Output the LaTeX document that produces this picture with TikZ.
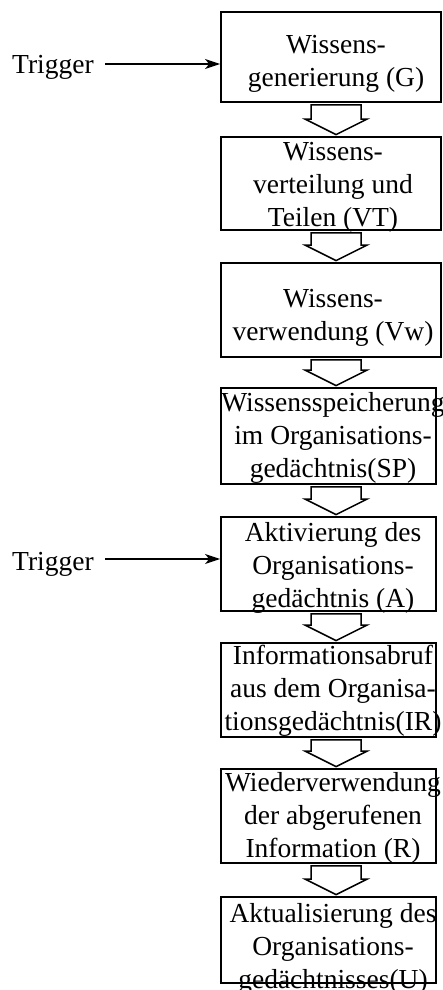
\documentclass[tikz,border=0pt]{standalone}
\usepackage{fontspec}
\setmainfont{Liberation Serif}
\usetikzlibrary{arrows.meta,calc}

\tikzset{
  stage/.style={draw, line width=1.8pt, inner sep=0pt},
  stagetext/.style={align=center, inner sep=0pt, font=\fontsize{27.5}{33}\selectfont},
  trigtext/.style={inner sep=0pt, font=\fontsize{27.5}{33}\selectfont},
  trigarrow/.style={line width=1.5pt, -{Stealth[length=15pt,width=10pt,inset=4pt]}},
  blockarrow/.style={draw, line width=1.5pt, line join=miter},
}

% hollow block arrow from the bottom of one stage to the top of the next
\newcommand\flowarrow[2]{%
  \draw[blockarrow] let \p1=(#1.south west), \p2=(#2.north west) in
    (\x1+91pt,\y1-2pt) -- (\x1+141pt,\y1-2pt) -- (\x1+141pt,\y2+17pt)
    -- (\x1+147pt,\y2+17pt) -- (\x1+116pt,\y2+1.5pt) -- (\x1+85pt,\y2+17pt)
    -- (\x1+91pt,\y2+17pt) -- cycle;}

\begin{document}
\begin{tikzpicture}[x=1pt, y=-1pt]
\useasboundingbox (0,0) rectangle (443,990);

% stages
\node[stage, minimum width=220pt, minimum height=90pt] (g)  at (331,57)    {};
\node[stage, minimum width=220pt, minimum height=93pt] (vt) at (331,183.5) {};
\node[stage, minimum width=220pt, minimum height=94pt] (vw) at (331,310)   {};
\node[stage, minimum width=215pt, minimum height=96pt] (sp) at (328.5,436) {};
\node[stage, minimum width=215pt, minimum height=94pt] (a)  at (328.5,564) {};
\node[stage, minimum width=215pt, minimum height=94pt] (ir) at (328.5,690) {};
\node[stage, minimum width=215pt, minimum height=94pt] (r)  at (328.5,816) {};
\node[stage, minimum width=215pt, minimum height=86pt] (u)  at (328.5,940) {};

% stage labels
\node[stagetext] (gT)  at (336,64)    {Wissens-\\generierung (G)};
\node[stagetext] (vtT) at (333,187.3) {Wissens-\\verteilung und\\Teilen (VT)};
\node[stagetext] (vwT) at (333,317.6) {Wissens-\\verwendung (Vw)};
\node[stagetext] (spT) at (333,438.3) {Wissensspeicherung\\im Organisations-\\gedächtnis(SP)};
\node[stagetext] (aT)  at (333,568.3) {Aktivierung des\\Organisations-\\gedächtnis (A)};
\node[stagetext] (irT) at (333,690.3) {Informationsabruf\\aus dem Organisa-\\tionsgedächtnis(IR)};
\node[stagetext] (rT)  at (333,818.3) {Wiederverwendung\\der abgerufenen\\Information (R)};
\node[stagetext] (uT)  at (333,949.1) {Aktualisierung des\\Organisations-\\gedächtnisses(U)};

% flow between the stages
\flowarrow{g}{vt}
\flowarrow{vt}{vw}
\flowarrow{vw}{sp}
\flowarrow{sp}{a}
\flowarrow{a}{ir}
\flowarrow{ir}{r}
\flowarrow{r}{u}

% triggers
\node[trigtext, anchor=base west] (t1) at (12,74)  {Trigger};
\node[trigtext, anchor=base west] (t2) at (12,570) {Trigger};
\coordinate (t1s) at (105,64);
\coordinate (t2s) at (105,559);
\draw[trigarrow] (t1s) -- (t1s -| g.west);
\draw[trigarrow] (t2s) -- (t2s -| a.west);
\end{tikzpicture}
\end{document}
